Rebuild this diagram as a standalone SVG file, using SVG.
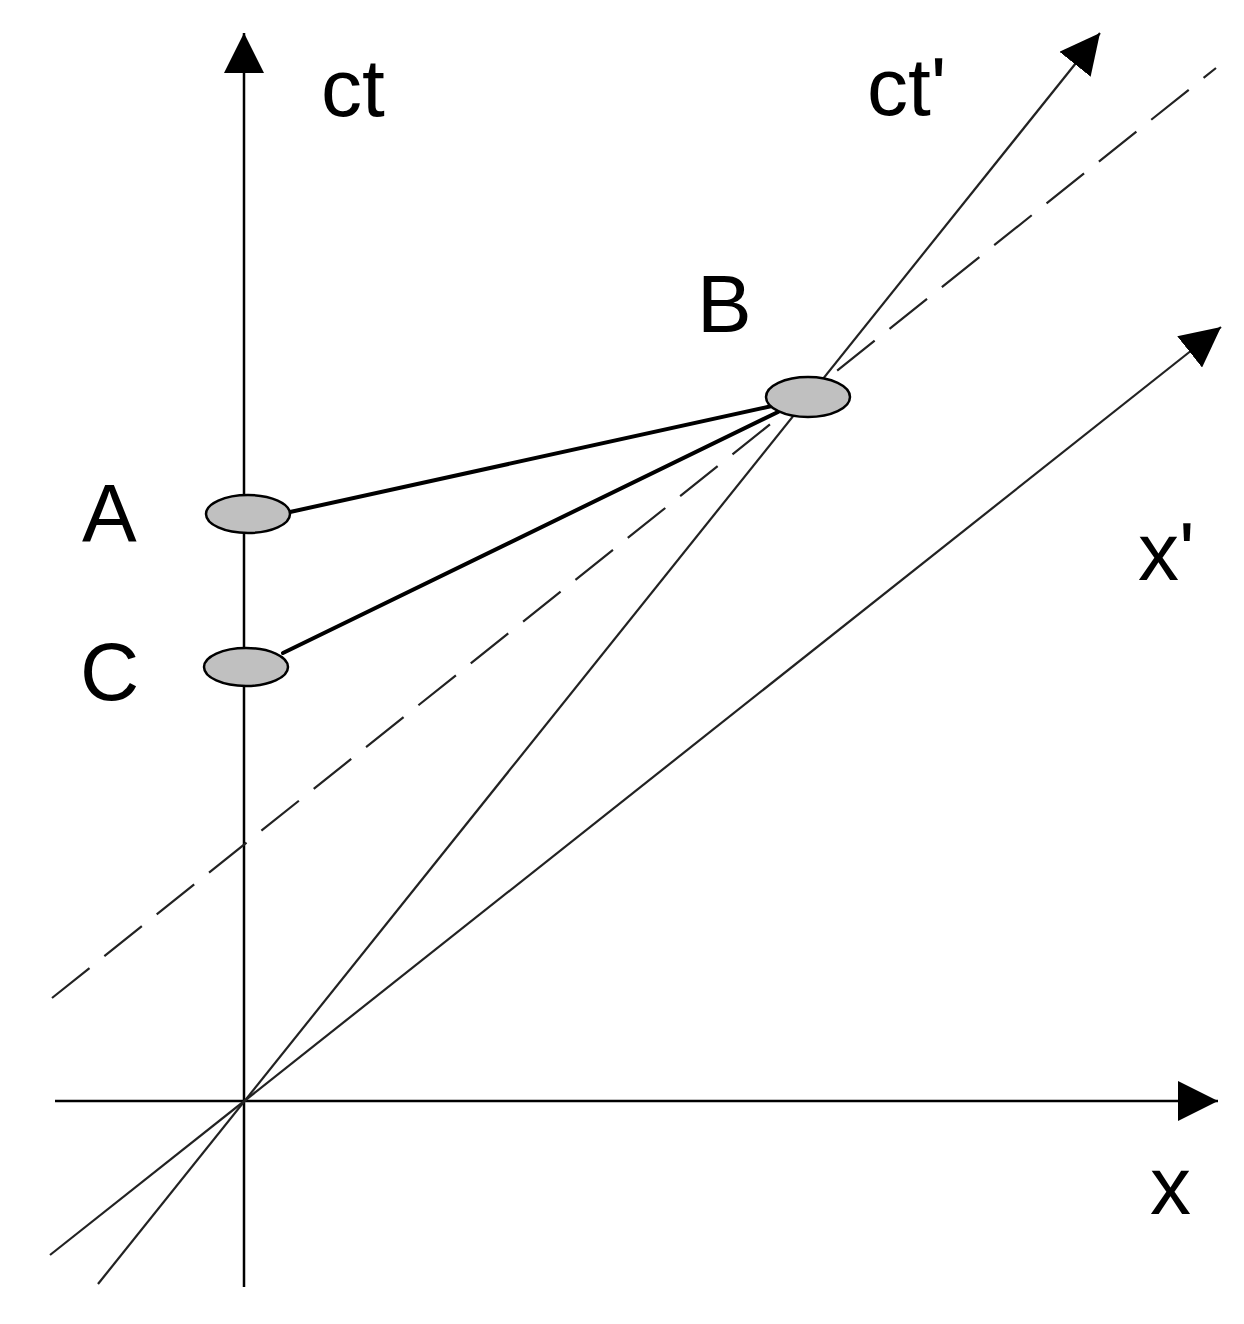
<svg xmlns="http://www.w3.org/2000/svg" width="1244" height="1324" viewBox="0 0 1244 1324">
<style>
.lbl{font-family:"Liberation Sans",Arial,sans-serif;font-size:82px;fill:#000}
.axis{stroke:#000;stroke-width:2.5;fill:none}
.thin{stroke:#222;stroke-width:2.2;fill:none}
.dash{stroke:#222;stroke-width:2.2;fill:none;stroke-dasharray:48 19}
.link{stroke:#000;stroke-width:4;fill:none;stroke-linecap:round}
.ev{fill:#c0c0c0;stroke:#000;stroke-width:2.5}
</style>
<defs>
<marker id="arr" markerUnits="userSpaceOnUse" markerWidth="40" markerHeight="40" viewBox="0 0 36 36" refX="36" refY="18" orient="auto">
<path d="M0,0 L36,18 L0,36 Z" fill="#000"/>
</marker>
</defs>
<rect width="1244" height="1324" fill="#fff"/>
<g id="connectors">
<line class="axis" x1="244" y1="1287" x2="244" y2="33" marker-end="url(#arr)"/>
<line class="axis" x1="55" y1="1101" x2="1218" y2="1101" marker-end="url(#arr)"/>
<line class="thin" x1="98" y1="1284" x2="1100" y2="33" marker-end="url(#arr)"/>
<line class="thin" x1="50" y1="1255" x2="1221" y2="327" marker-end="url(#arr)"/>
<line class="dash" x1="52" y1="998" x2="1216" y2="68"/>
<line class="link" x1="290" y1="512" x2="772" y2="406"/>
<line class="link" x1="283" y1="653" x2="778" y2="412"/>
</g>
<g id="labels">
<text class="lbl" x="321" y="116">ct</text>
<text class="lbl" x="867" y="115">ct'</text>
<text class="lbl" x="1138" y="580">x'</text>
<text class="lbl" x="1150" y="1214">x</text>
</g>
<g id="A">
<ellipse class="ev" cx="248" cy="514" rx="42" ry="19"/>
<text class="lbl" x="82" y="541">A</text>
</g>
<g id="C">
<ellipse class="ev" cx="246" cy="667" rx="42" ry="19"/>
<text class="lbl" x="80" y="700">C</text>
</g>
<g id="B">
<ellipse class="ev" cx="808" cy="397" rx="42" ry="20"/>
<text class="lbl" x="697" y="332">B</text>
</g>
</svg>
